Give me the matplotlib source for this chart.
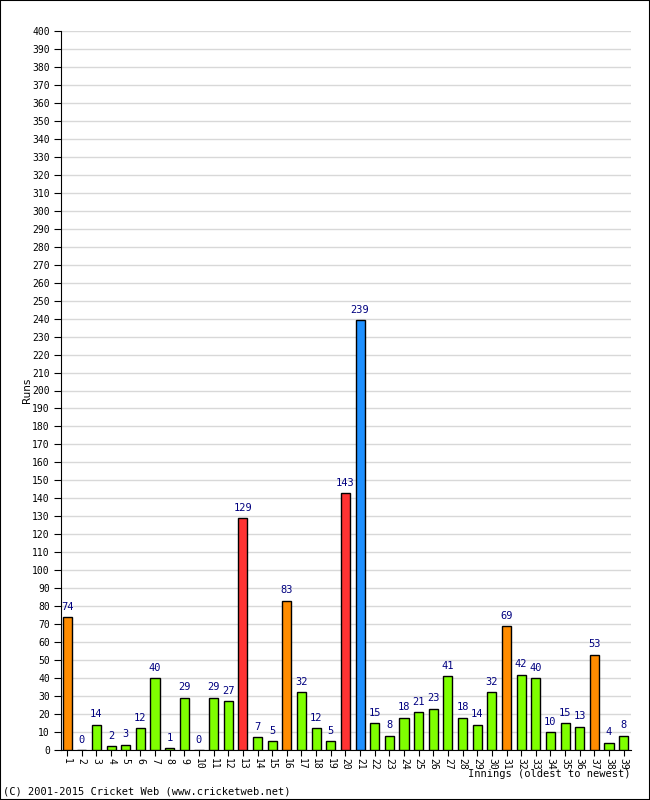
import matplotlib.pyplot as plt
from matplotlib.patches import Rectangle

innings = list(range(1, 40))
runs = [74, 0, 14, 2, 3, 12, 40, 1, 29, 0, 29, 27, 129, 7, 5, 83, 32, 12, 5, 143,
        239, 15, 8, 18, 21, 23, 41, 18, 14, 32, 69, 42, 40, 10, 15, 13, 53, 4, 8]
y_ticks = list(range(0, 401, 10))


def bar_colour(r):
    if r >= 200:
        return "#1e90ff"
    if r >= 100:
        return "#ff3333"
    if r >= 50:
        return "#ff8c00"
    return "#7fff00"


mono = "DejaVu Sans Mono"
fig = plt.figure(figsize=(6.5, 8), dpi=100)
fig.patches.append(Rectangle((0, 0), 1, 1, transform=fig.transFigure,
                             fill=False, edgecolor="black", linewidth=1.5))
ax = fig.add_axes([61 / 650, 50 / 800, 570 / 650, 719 / 800])

colours = [bar_colour(r) for r in runs]
ax.bar(innings, runs, width=0.62, color=colours, edgecolor="black",
       linewidth=1, zorder=3)
for i, r in zip(innings, runs):
    ax.text(i, r + 3, str(r), ha="center", va="bottom", color="#000080",
            fontsize=7.5, family=mono, zorder=4)

ax.set_xlim(0.58, 39.5)
ax.set_ylim(0, 400)
ax.set_yticks(y_ticks)
ax.set_xticks(innings)
ax.set_xticklabels([str(i) for i in innings], rotation=270, family=mono,
                   fontsize=7)
for lbl in ax.get_yticklabels():
    lbl.set_family(mono)
ax.tick_params(axis="y", labelsize=7, length=5, direction="out", pad=3)
ax.tick_params(axis="x", length=4, direction="out", pad=2)
ax.grid(axis="y", color="#d8d8d8", linewidth=1, zorder=0)
for s in ["top", "right"]:
    ax.spines[s].set_visible(False)

fig.text(27 / 650, 1 - 390 / 800, "Runs", rotation=90, ha="center",
         va="center", fontsize=7.5, family="DejaVu Sans")
fig.text(630 / 650, 1 - 774 / 800, "Innings (oldest to newest)", ha="right",
         va="center", fontsize=7.5, family=mono)
fig.text(3 / 650, 1 - 792 / 800, "(C) 2001-2015 Cricket Web (www.cricketweb.net)",
         ha="left", va="center", fontsize=7.5, family=mono)

fig.savefig("out.png", dpi=100)
